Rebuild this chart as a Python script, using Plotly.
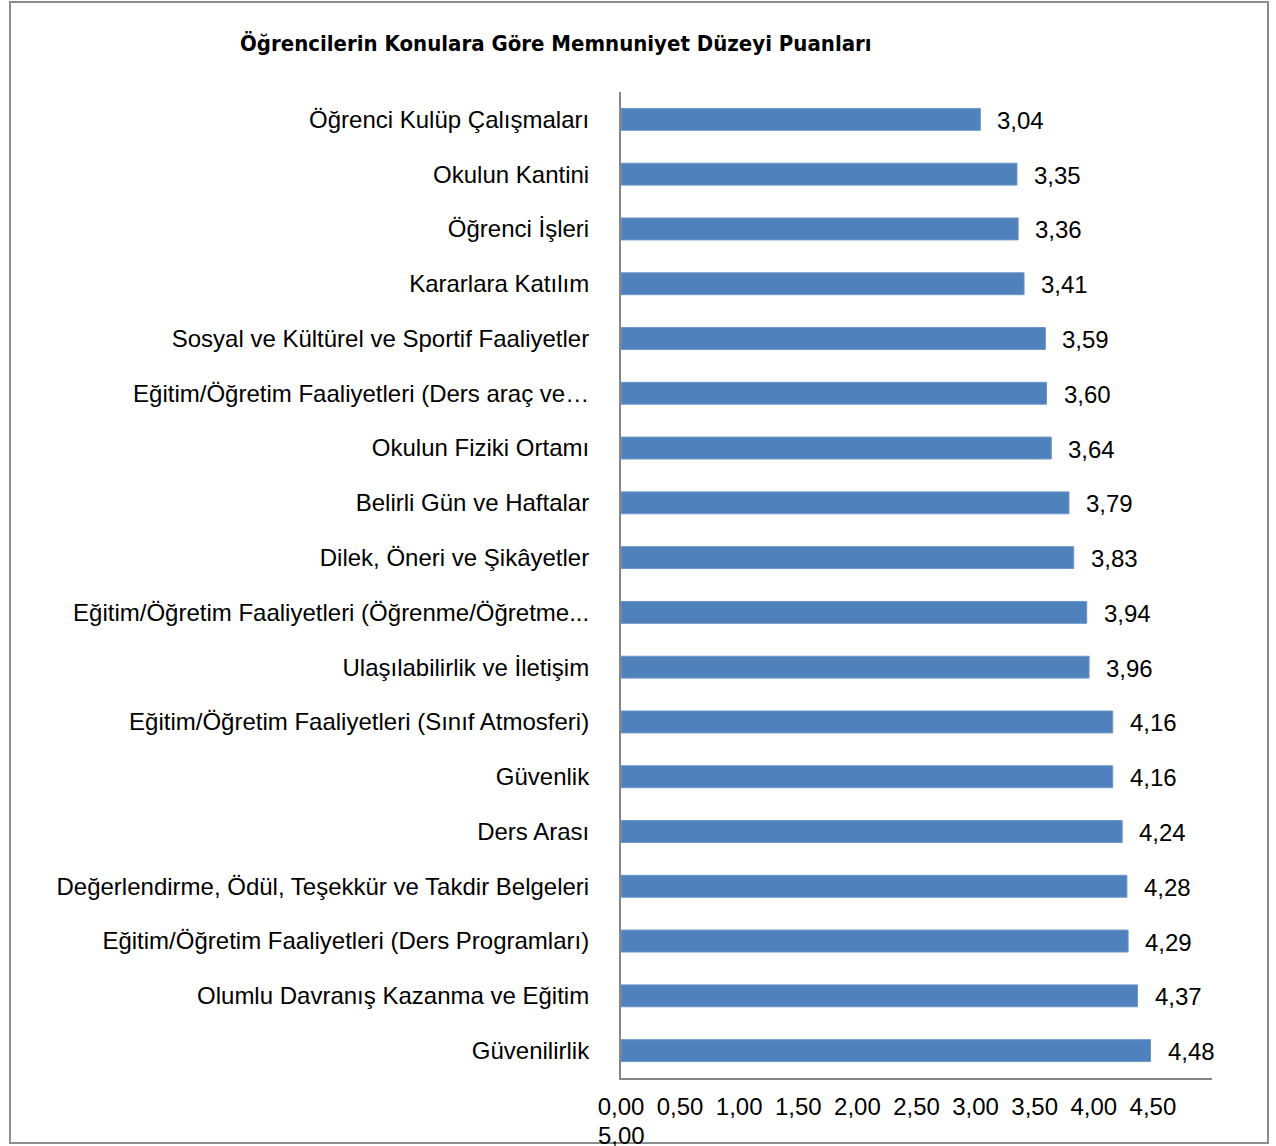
import plotly.graph_objects as go

categories = [
    "Öğrenci Kulüp Çalışmaları",
    "Okulun Kantini",
    "Öğrenci İşleri",
    "Kararlara Katılım",
    "Sosyal ve Kültürel ve Sportif Faaliyetler",
    "Eğitim/Öğretim Faaliyetleri (Ders araç ve…",
    "Okulun Fiziki Ortamı",
    "Belirli Gün ve Haftalar",
    "Dilek, Öneri ve Şikâyetler",
    "Eğitim/Öğretim Faaliyetleri (Öğrenme/Öğretme...",
    "Ulaşılabilirlik ve İletişim",
    "Eğitim/Öğretim Faaliyetleri (Sınıf Atmosferi)",
    "Güvenlik",
    "Ders Arası",
    "Değerlendirme, Ödül, Teşekkür ve Takdir Belgeleri",
    "Eğitim/Öğretim Faaliyetleri (Ders Programları)",
    "Olumlu Davranış Kazanma ve Eğitim",
    "Güvenilirlik",
]
scores = [3.04, 3.35, 3.36, 3.41, 3.59, 3.60, 3.64, 3.79, 3.83, 3.94,
          3.96, 4.16, 4.16, 4.24, 4.28, 4.29, 4.37, 4.48]
tick_values = [0, 0.5, 1, 1.5, 2, 2.5, 3, 3.5, 4, 4.5]
title_text = "Öğrencilerin Konulara Göre Memnuniyet Düzeyi Puanları"

FONT = "Liberation Sans Narrow, Arial Narrow, Liberation Sans, Arial, sans-serif"
FS = 24
W, H = 1276, 1146
L, R, T, B = 621, 1212, 92, 1078
pw, ph = R - L, B - T

fig = go.Figure(go.Bar(
    x=scores, y=categories, orientation="h",
    marker=dict(color="#4F81BD", line=dict(color="#6C96C9", width=1)),
    width=0.4,
))

annotations = [
    dict(x=v, y=c, xref="x", yref="y", text=f"{v:.2f}".replace(".", ","),
         showarrow=False, xanchor="left", yanchor="middle", xshift=15, yshift=-1,
         font=dict(family=FONT, size=FS, color="#000000"))
    for v, c in zip(scores, categories)
]
annotations.append(dict(x=0, y=(B - 1135) / ph, xref="x", yref="paper", text="5,00",
                        showarrow=False, xanchor="center", yanchor="middle",
                        font=dict(family=FONT, size=FS, color="#000000")))
annotations.append(dict(x=(556 - L) / pw, y=(B - 44) / ph, xref="paper", yref="paper",
                        text=f"<b>{title_text}</b>", showarrow=False,
                        xanchor="center", yanchor="middle",
                        font=dict(family="DejaVu Sans Condensed, DejaVu Sans, sans-serif",
                                  size=22, color="#000000")))

fig.update_layout(
    width=W, height=H,
    margin=dict(l=L, r=W - R, t=T, b=H - B, pad=0, autoexpand=False),
    paper_bgcolor="#FFFFFF", plot_bgcolor="#FFFFFF",
    separators=",.",
    showlegend=False,
    annotations=annotations,
    shapes=[dict(type="rect", xref="paper", yref="paper",
                 x0=(10 - L) / pw, x1=(1268 - L) / pw,
                 y0=(B - 1143) / ph, y1=(B - 2) / ph,
                 line=dict(color="#8C8C8C", width=2), layer="below")],
    xaxis=dict(range=[0, 5], tickvals=tick_values, tickformat=".2f",
               showgrid=False, zeroline=False, showline=True, linecolor="#868686",
               linewidth=2, ticks="", ticklabelstandoff=6, automargin=False,
               tickfont=dict(family=FONT, size=FS, color="#000000")),
    yaxis=dict(autorange="reversed", showgrid=False, showline=True, linecolor="#868686",
               linewidth=2, ticks="", ticklabelstandoff=25, automargin=False,
               tickfont=dict(family=FONT, size=FS, color="#000000")),
)

fig.write_html("out.html", config={"displayModeBar": False},
               post_script="document.body.style.margin='0';document.body.style.overflow='hidden';")
